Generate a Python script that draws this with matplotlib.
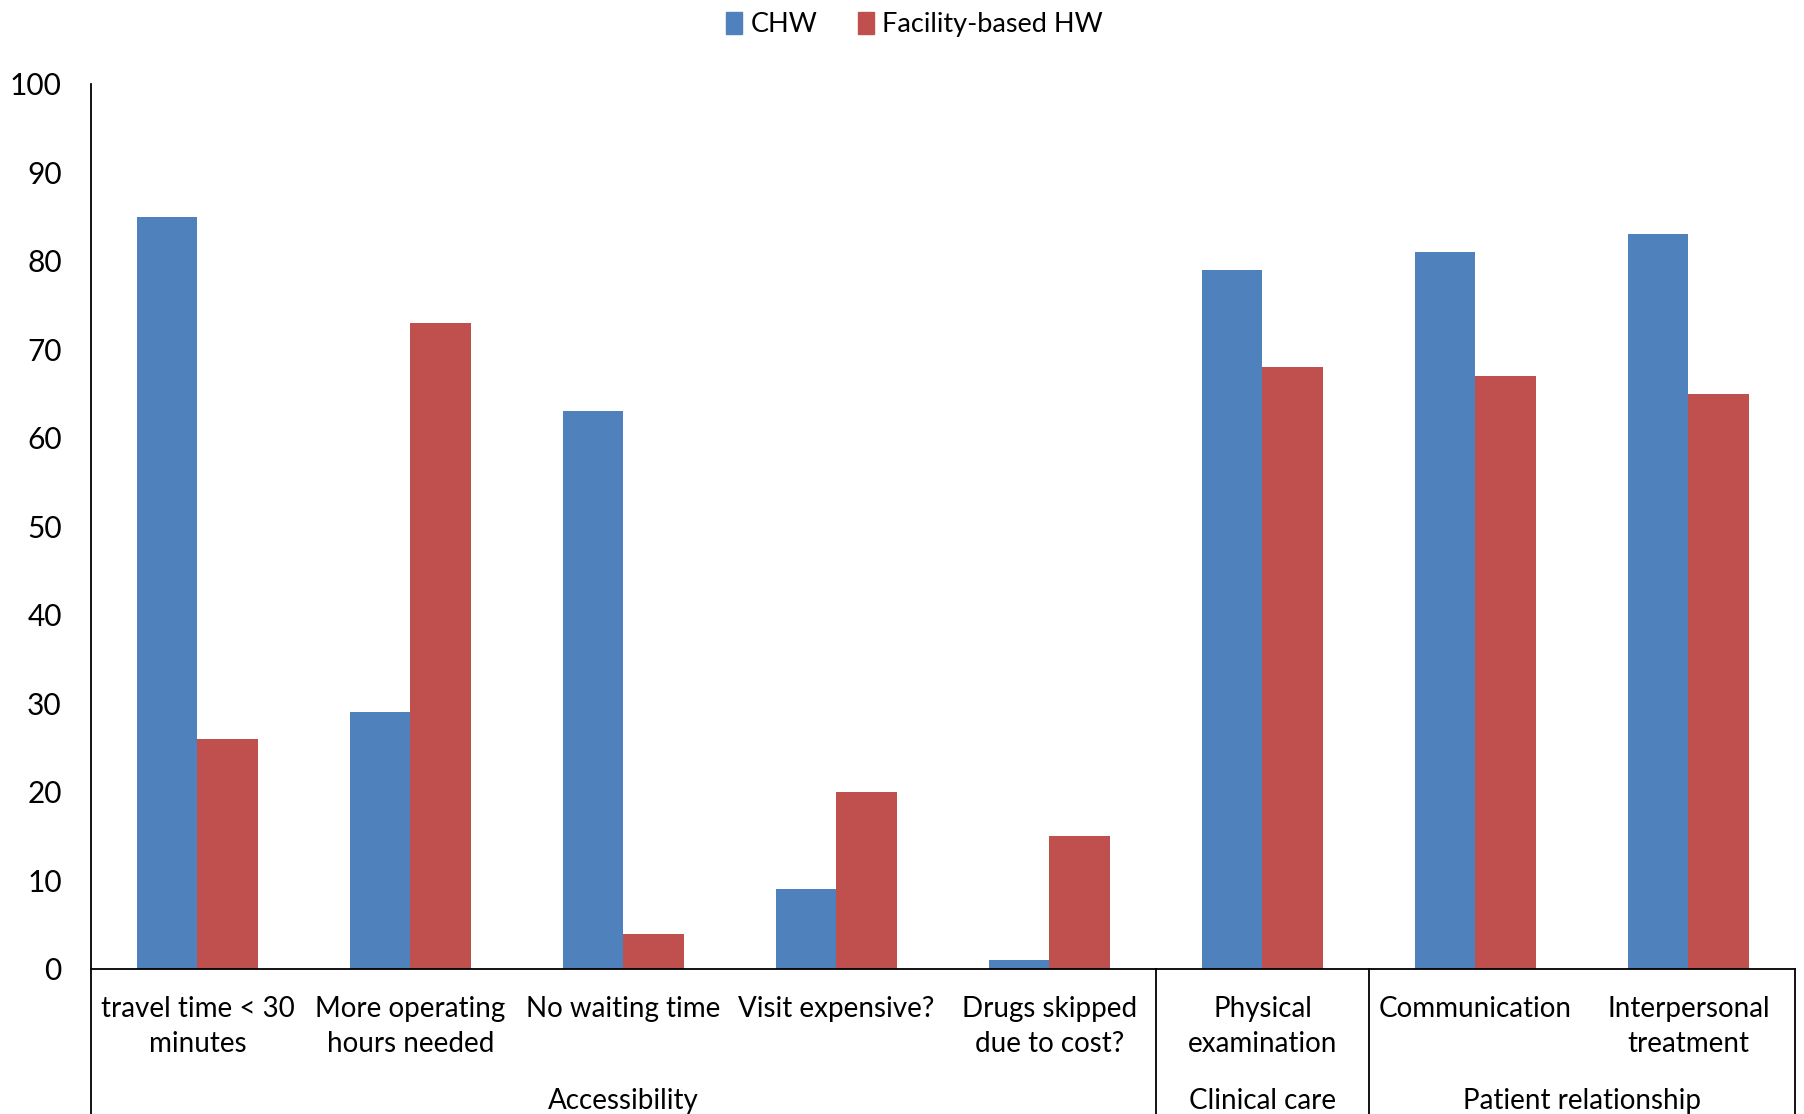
import numpy as np
import matplotlib.pyplot as plt
import matplotlib.transforms as mtransforms
from matplotlib.patches import Patch

plt.rcParams['font.family'] = ['Lato', 'DejaVu Sans']

# Data
categories = ["travel time < 30\nminutes", "More operating\nhours needed", "No waiting time",
              "Visit expensive?", "Drugs skipped\ndue to cost?", "Physical\nexamination",
              "Communication", "Interpersonal\ntreatment"]
chw = [85, 29, 63, 9, 1, 79, 81, 83]
facility_hw = [26, 73, 4, 20, 15, 68, 67, 65]
groups = ["Accessibility", "Clinical care", "Patient relationship"]
group_spans = [(0, 4), (5, 5), (6, 7)]
yticks = list(range(0, 101, 10))

blue = '#4F81BD'
red = '#C0504D'

fig = plt.figure(figsize=(18.04, 11.14), dpi=100)
ax = fig.add_axes([0.0504, 0.1302, 0.9446, 0.7944])

x = np.arange(len(categories))
w = 0.286
ax.bar(x - w / 2, chw, width=w, color=blue)
ax.bar(x + w / 2, facility_hw, width=w, color=red)

ax.set_xlim(-0.5, len(categories) - 0.5)
ax.set_ylim(0, 100)
ax.set_yticks(yticks)
ax.tick_params(axis='y', length=0, labelsize=21.5, pad=21)
ax.set_xticks([])
for s in ['top', 'right']:
    ax.spines[s].set_visible(False)
ax.spines['left'].set_linewidth(1.3)
ax.spines['bottom'].set_linewidth(1.3)

# multi-level category axis below the plot
trans = mtransforms.blended_transform_factory(ax.transData, ax.transAxes)
ybot = -0.1302 / 0.7944
for xv in [-0.5, 4.5, 5.5, 7.5]:
    ax.plot([xv, xv], [0, ybot], color='black', lw=1.3, transform=trans, clip_on=False)

for i, lab in enumerate(categories):
    ax.text(i, -0.031, lab, transform=trans, ha='center', va='top', fontsize=20,
            linespacing=1.4)
for g, (a, b) in zip(groups, group_spans):
    ax.text((a + b) / 2, -0.1495, g, transform=trans, ha='center', va='center', fontsize=20)

handles = [Patch(color=blue, label='CHW'), Patch(color=red, label='Facility-based HW')]
fig.legend(handles=handles, loc='center', bbox_to_anchor=(0.507, 0.978), ncol=2,
           frameon=False, fontsize=19.5, handlelength=0.6, handleheight=0.9,
           handletextpad=0.3, columnspacing=1.5)

fig.savefig('out.png', dpi=100)
